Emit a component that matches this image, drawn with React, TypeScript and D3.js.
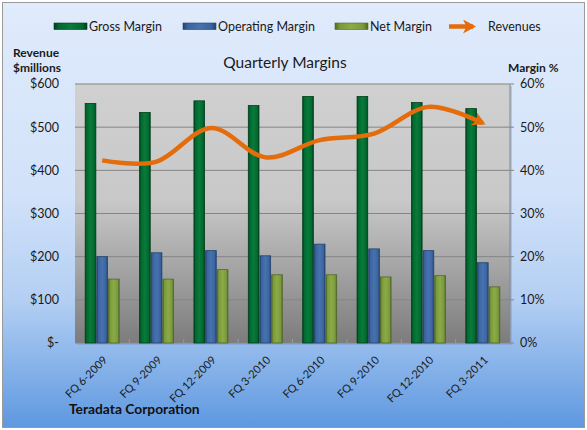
import React from 'react'
import * as d3 from 'd3'

const quarters = ['FQ 6-2009', 'FQ 9-2009', 'FQ 12-2009', 'FQ 3-2010', 'FQ 6-2010', 'FQ 9-2010', 'FQ 12-2010', 'FQ 3-2011']
const grossMargin = [55.5, 53.4, 56.1, 55.0, 57.1, 57.1, 55.7, 54.3]
const operatingMargin = [20.0, 20.9, 21.4, 20.2, 22.9, 21.8, 21.4, 18.6]
const netMargin = [14.8, 14.8, 17.0, 15.8, 15.8, 15.3, 15.6, 13.0]
const revenues = [423, 420, 498, 430, 470, 485, 547, 509]
const revenueTicks = [0, 100, 200, 300, 400, 500, 600]
const marginTicks = [0, 10, 20, 30, 40, 50, 60]

const W = 587
const H = 430
const plot = { left: 75, right: 510, top: 84, bottom: 343 }
const font = 'Lato, "Open Sans", sans-serif'

const series = [
  { name: 'Gross Margin', values: grossMargin, color: '#006a30', dark: '#003f1c', light: '#0a7a3a' },
  { name: 'Operating Margin', values: operatingMargin, color: '#3a65a0', dark: '#24446f', light: '#4772ad' },
  { name: 'Net Margin', values: netMargin, color: '#7a9a3c', dark: '#52682a', light: '#8aab46' },
]

export default function App() {
  const x = d3.scaleBand<string>().domain(quarters).range([plot.left, plot.right]).paddingInner(0.356).paddingOuter(0.178)
  const xs = d3.scaleBand<number>().domain([0, 1, 2]).range([0, x.bandwidth()])
  const yPct = d3.scaleLinear().domain([0, 60]).range([plot.bottom, plot.top])
  const yRev = d3.scaleLinear().domain([0, 600]).range([plot.bottom, plot.top])
  const cx = (q: string) => (x(q) ?? 0) + x.bandwidth() / 2
  const step = x.step()

  const line = d3.line<number>()
    .x((_, i) => cx(quarters[i]))
    .y(d => yRev(d))
    .curve(d3.curveCardinal.tension(0))

  const revLabel = (v: number) => (v === 0 ? '$-' : `$${v}`)

  const legendItems = [
    { x: 54, tx: 89, kind: 0 },
    { x: 183, tx: 218, kind: 1 },
    { x: 335, tx: 370, kind: 2 },
  ]

  return (
    <div style={{ position: 'absolute', left: 0, top: 0 }}>
      <svg width={W} height={H} style={{ display: 'block' }} fontFamily={font}>
        <defs>
          <linearGradient id="bg" x1="0" y1="0" x2="0" y2="1">
            <stop offset="0" stopColor="#e0ebfc" />
            <stop offset="0.45" stopColor="#d2e2f9" />
            <stop offset="0.7" stopColor="#b3cff3" />
            <stop offset="1" stopColor="#5e98e0" />
          </linearGradient>
          <linearGradient id="plotbg" x1="0" y1="0" x2="0" y2="1">
            <stop offset="0" stopColor="#d0d0d0" />
            <stop offset="0.45" stopColor="#c8c8c8" />
            <stop offset="0.7" stopColor="#a6a6a6" />
            <stop offset="1" stopColor="#7c7c7c" />
          </linearGradient>
          {series.map((s, i) => (
            <linearGradient key={i} id={`bar${i}`} x1="0" y1="0" x2="1" y2="0">
              <stop offset="0" stopColor={s.dark} />
              <stop offset="0.15" stopColor={s.color} />
              <stop offset="0.5" stopColor={s.light} />
              <stop offset="0.85" stopColor={s.color} />
              <stop offset="1" stopColor={s.dark} />
            </linearGradient>
          ))}
          <marker id="arrow" viewBox="0 0 13 14" refX="10" refY="7" markerWidth="13" markerHeight="14" orient="auto" markerUnits="userSpaceOnUse">
            <path d="M0,0 L13,7 L0,14 L3.5,7 z" fill="#e46c0a" />
          </marker>
        </defs>

        <rect x={0} y={0} width={W} height={H} fill="#ffffff" />
        <rect x={2.5} y={2.5} width={W - 5} height={H - 5} fill="url(#bg)" stroke="#9a9a9a" strokeWidth={1} />

        {/* legend */}
        {legendItems.map((l, i) => (
          <g key={i}>
            <rect x={l.x} y={23} width={33} height={6.5} fill={`url(#bar${l.kind})`} stroke={series[l.kind].dark} strokeWidth={0.6} />
            <text x={l.tx} y={30.5} fontSize={12.5} fill="#1a1a1a">{series[l.kind].name}</text>
          </g>
        ))}
        <line x1={449} y1={26.5} x2={473} y2={26.5} stroke="#e46c0a" strokeWidth={4.5} markerEnd="url(#arrow)" />
        <text x={488} y={30.5} fontSize={12.5} fill="#1a1a1a">Revenues</text>

        {/* titles */}
        <text x={285} y={68} fontSize={15.5} textAnchor="middle" fill="#1a1a1a">Quarterly Margins</text>
        <text x={13} y={57} fontSize={12} fontWeight="bold" fill="#1a1a1a">Revenue</text>
        <text x={13} y={72} fontSize={12} fontWeight="bold" fill="#1a1a1a">$millions</text>
        <text x={508} y={72} fontSize={12} fontWeight="bold" fill="#1a1a1a">Margin %</text>
        <text x={69} y={414} fontSize={13.8} fontWeight="bold" fill="#111">Teradata Corporation</text>

        {/* plot area */}
        <rect x={plot.left + 2} y={plot.top + 2} width={plot.right - plot.left} height={plot.bottom - plot.top} fill="#6f8fb8" opacity={0.35} />
        <rect x={plot.left} y={plot.top} width={plot.right - plot.left} height={plot.bottom - plot.top} fill="url(#plotbg)" />
        {marginTicks.map(t => (
          <line key={t} x1={plot.left} x2={plot.right} y1={yPct(t)} y2={yPct(t)} stroke="#858585" strokeWidth={1} />
        ))}
        {quarters.slice(1).map((q, i) => (
          <line key={q} x1={plot.left + step * (i + 1)} x2={plot.left + step * (i + 1)} y1={plot.bottom} y2={plot.bottom - 4} stroke="#999" strokeWidth={1} />
        ))}
        <line x1={plot.right} x2={plot.right} y1={plot.top} y2={plot.bottom} stroke="#858585" strokeWidth={1} />
        {marginTicks.map(t => (
          <line key={t} x1={plot.right} x2={plot.right + 4} y1={yPct(t)} y2={yPct(t)} stroke="#858585" strokeWidth={1} />
        ))}

        {/* bars */}
        {series.map((s, si) => s.values.map((v, i) => {
          const bx = (x(quarters[i]) ?? 0) + (xs(si) ?? 0)
          return (
            <rect key={`${si}-${i}`} x={bx + 0.5} y={yPct(v)} width={xs.bandwidth() - 1} height={plot.bottom - yPct(v)}
              fill={`url(#bar${si})`} stroke={s.dark} strokeWidth={0.8} />
          )
        }))}

        {/* revenue line */}
        <path d={line(revenues) ?? ''} fill="none" stroke="#e46c0a" strokeWidth={4.5} strokeLinecap="butt" markerEnd="url(#arrow)" />

        {/* left axis labels */}
        {revenueTicks.map(t => (
          <text key={t} x={59} y={yRev(t)} dy="0.35em" fontSize={12.5} textAnchor="end" fill="#1a1a1a">{revLabel(t)}</text>
        ))}
        {/* right axis labels */}
        {marginTicks.map(t => (
          <text key={t} x={520} y={yPct(t)} dy="0.35em" fontSize={12.5} fill="#1a1a1a">{`${t}%`}</text>
        ))}

        {/* x labels */}
        {quarters.map(q => (
          <text key={q} transform={`translate(${cx(q)},355) rotate(-45)`} dy="0.75em" fontSize={11} textAnchor="end" fill="#1a1a1a">{q}</text>
        ))}
      </svg>
    </div>
  )
}
